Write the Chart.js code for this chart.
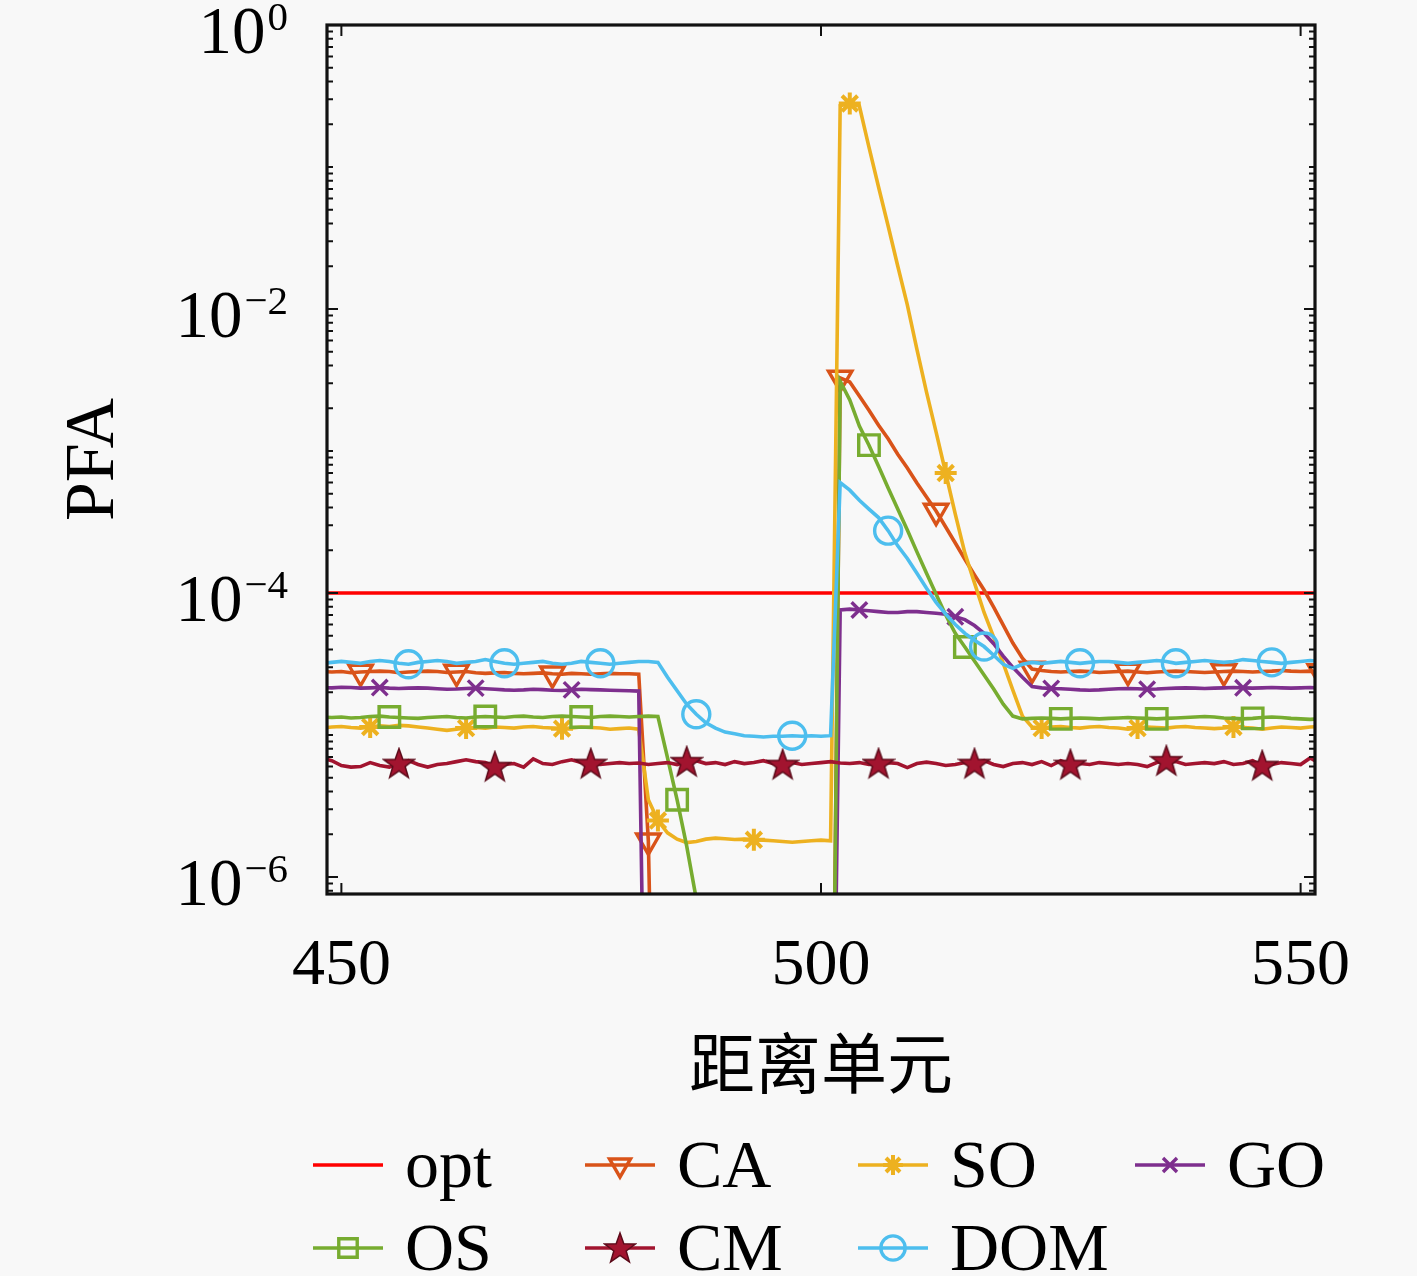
<!DOCTYPE html>
<html>
<head>
<meta charset="utf-8">
<script src="https://cdn.jsdelivr.net/npm/chart.js@4.4.1/dist/chart.umd.min.js"></script>
<style>
html, body { margin: 0; padding: 0; background: #f8f8f8; }
#wrap { width: 1417px; height: 1276px; position: relative; }
</style>
</head>
<body>
<div id="wrap"><canvas id="pfaChart"></canvas></div>
<script>
// range cells on the x axis
const cells = [448, 449,
  450, 451, 452, 453, 454, 455, 456, 457, 458, 459,
  460, 461, 462, 463, 464, 465, 466, 467, 468, 469,
  470, 471, 472, 473, 474, 475, 476, 477, 478, 479,
  480, 481, 482, 483, 484, 485, 486, 487, 488, 489,
  490, 491, 492, 493, 494, 495, 496, 497, 498, 499,
  500, 501, 502, 503, 504, 505, 506, 507, 508, 509,
  510, 511, 512, 513, 514, 515, 516, 517, 518, 519,
  520, 521, 522, 523, 524, 525, 526, 527, 528, 529,
  530, 531, 532, 533, 534, 535, 536, 537, 538, 539,
  540, 541, 542, 543, 544, 545, 546, 547, 548, 549,
  550, 551, 552];

const optCells = [448, 552];
const optPfa = [1e-4, 1e-4];

// 1e-9 = the value fell to zero (below the axis)
const caPfa = [2.8e-5, 2.78e-5,
  2.8e-5, 2.75e-5, 2.78e-5, 2.8e-5, 2.82e-5, 2.8e-5, 2.75e-5, 2.78e-5, 2.8e-5, 2.82e-5,
  2.8e-5, 2.76e-5, 2.78e-5, 2.8e-5, 2.75e-5, 2.72e-5, 2.74e-5, 2.76e-5, 2.72e-5, 2.7e-5,
  2.72e-5, 2.74e-5, 2.7e-5, 2.68e-5, 2.72e-5, 2.7e-5, 2.68e-5, 2.7e-5, 2.72e-5, 2.7e-5,
  2.7e-5, 2.68e-5, 1.8e-6, 1e-9, 1e-9, 1e-9, 1e-9, 1e-9, 1e-9, 1e-9,
  1e-9, 1e-9, 1e-9, 1e-9, 1e-9, 1e-9, 1e-9, 1e-9, 1e-9, 1e-9,
  1e-9, 1e-9, 3.27e-3, 3.06e-3, 2.44e-3, 1.94e-3, 1.52e-3, 1.22e-3, 9.5e-4, 7.6e-4,
  5.95e-4, 4.74e-4, 3.78e-4, 2.92e-4, 2.25e-4, 1.73e-4, 1.34e-4, 1.05e-4, 7.96e-5, 5.95e-5,
  4.45e-5, 3.48e-5, 2.92e-5, 2.85e-5, 2.8e-5, 2.78e-5, 2.8e-5, 2.82e-5, 2.8e-5, 2.76e-5,
  2.78e-5, 2.8e-5, 2.82e-5, 2.78e-5, 2.75e-5, 2.78e-5, 2.8e-5, 2.82e-5, 2.8e-5, 2.78e-5,
  2.76e-5, 2.78e-5, 2.8e-5, 2.82e-5, 2.8e-5, 2.78e-5, 2.8e-5, 2.82e-5, 2.85e-5, 2.82e-5,
  2.8e-5, 2.82e-5, 2.8e-5];

const soPfa = [1.12e-5, 1.14e-5,
  1.15e-5, 1.13e-5, 1.12e-5, 1.14e-5, 1.16e-5, 1.15e-5, 1.17e-5, 1.16e-5, 1.14e-5, 1.12e-5,
  1.1e-5, 1.08e-5, 1.1e-5, 1.12e-5, 1.13e-5, 1.12e-5, 1.14e-5, 1.13e-5, 1.12e-5, 1.14e-5,
  1.15e-5, 1.13e-5, 1.12e-5, 1.11e-5, 1.12e-5, 1.14e-5, 1.13e-5, 1.12e-5, 1.1e-5, 1.11e-5,
  1.12e-5, 1.1e-5, 3.5e-6, 2.5e-6, 2.05e-6, 1.85e-6, 1.75e-6, 1.78e-6, 1.85e-6, 1.88e-6,
  1.86e-6, 1.84e-6, 1.85e-6, 1.83e-6, 1.82e-6, 1.8e-6, 1.78e-6, 1.76e-6, 1.78e-6, 1.8e-6,
  1.82e-6, 1.8e-6, 0.27, 0.28, 0.269, 0.138, 0.0723, 0.0384, 0.0201, 0.0107,
  5.2e-3, 2.6e-3, 1.36e-3, 7.0e-4, 3.6e-4, 1.91e-4, 1.18e-4, 7.3e-5, 4.9e-5, 3.2e-5,
  2.07e-5, 1.36e-5, 1.14e-5, 1.12e-5, 1.14e-5, 1.15e-5, 1.13e-5, 1.12e-5, 1.14e-5, 1.15e-5,
  1.13e-5, 1.12e-5, 1.1e-5, 1.12e-5, 1.14e-5, 1.13e-5, 1.12e-5, 1.14e-5, 1.15e-5, 1.13e-5,
  1.12e-5, 1.11e-5, 1.12e-5, 1.14e-5, 1.13e-5, 1.12e-5, 1.1e-5, 1.12e-5, 1.14e-5, 1.13e-5,
  1.12e-5, 1.14e-5, 1.15e-5];

const goPfa = [2.16e-5, 2.15e-5,
  2.17e-5, 2.16e-5, 2.14e-5, 2.15e-5, 2.16e-5, 2.14e-5, 2.13e-5, 2.14e-5, 2.15e-5, 2.14e-5,
  2.12e-5, 2.1e-5, 2.11e-5, 2.13e-5, 2.14e-5, 2.12e-5, 2.1e-5, 2.08e-5, 2.07e-5, 2.08e-5,
  2.1e-5, 2.09e-5, 2.07e-5, 2.06e-5, 2.08e-5, 2.1e-5, 2.09e-5, 2.08e-5, 2.07e-5, 2.06e-5,
  2.05e-5, 2.04e-5, 1e-9, 1e-9, 1e-9, 1e-9, 1e-9, 1e-9, 1e-9, 1e-9,
  1e-9, 1e-9, 1e-9, 1e-9, 1e-9, 1e-9, 1e-9, 1e-9, 1e-9, 1e-9,
  1e-9, 1e-9, 7.6e-5, 7.7e-5, 7.6e-5, 7.5e-5, 7.4e-5, 7.3e-5, 7.3e-5, 7.4e-5,
  7.4e-5, 7.3e-5, 7.2e-5, 7.1e-5, 6.8e-5, 6.5e-5, 5.9e-5, 5.2e-5, 4.4e-5, 3.6e-5,
  3.0e-5, 2.55e-5, 2.2e-5, 2.15e-5, 2.13e-5, 2.12e-5, 2.1e-5, 2.08e-5, 2.07e-5, 2.08e-5,
  2.1e-5, 2.12e-5, 2.13e-5, 2.12e-5, 2.1e-5, 2.11e-5, 2.13e-5, 2.14e-5, 2.15e-5, 2.14e-5,
  2.13e-5, 2.14e-5, 2.15e-5, 2.16e-5, 2.15e-5, 2.14e-5, 2.15e-5, 2.16e-5, 2.15e-5, 2.14e-5,
  2.15e-5, 2.16e-5, 2.15e-5];

const osPfa = [1.34e-5, 1.33e-5,
  1.34e-5, 1.32e-5, 1.33e-5, 1.35e-5, 1.36e-5, 1.34e-5, 1.33e-5, 1.32e-5, 1.31e-5, 1.33e-5,
  1.34e-5, 1.35e-5, 1.33e-5, 1.32e-5, 1.34e-5, 1.35e-5, 1.34e-5, 1.33e-5, 1.35e-5, 1.36e-5,
  1.34e-5, 1.33e-5, 1.35e-5, 1.36e-5, 1.35e-5, 1.34e-5, 1.33e-5, 1.35e-5, 1.36e-5, 1.35e-5,
  1.34e-5, 1.35e-5, 1.36e-5, 1.35e-5, 6.9e-6, 3.5e-6, 1.65e-6, 7.0e-7, 1e-9, 1e-9,
  1e-9, 1e-9, 1e-9, 1e-9, 1e-9, 1e-9, 1e-9, 1e-9, 1e-9, 1e-9,
  1e-9, 1e-9, 3.1e-3, 2.29e-3, 1.5e-3, 1.1e-3, 7.8e-4, 5.5e-4, 3.9e-4, 2.78e-4,
  1.95e-4, 1.38e-4, 9.8e-5, 7.0e-5, 5.2e-5, 4.17e-5, 3.32e-5, 2.65e-5, 2.11e-5, 1.65e-5,
  1.36e-5, 1.3e-5, 1.31e-5, 1.32e-5, 1.31e-5, 1.3e-5, 1.31e-5, 1.32e-5, 1.31e-5, 1.3e-5,
  1.31e-5, 1.32e-5, 1.33e-5, 1.32e-5, 1.31e-5, 1.3e-5, 1.31e-5, 1.32e-5, 1.33e-5, 1.34e-5,
  1.35e-5, 1.34e-5, 1.32e-5, 1.31e-5, 1.3e-5, 1.31e-5, 1.33e-5, 1.34e-5, 1.33e-5, 1.31e-5,
  1.3e-5, 1.29e-5, 1.3e-5];

const cmPfa = [6.9e-6, 6.6e-6,
  6.1e-6, 5.95e-6, 6.0e-6, 6.4e-6, 6.1e-6, 5.95e-6, 6.3e-6, 6.6e-6, 6.2e-6, 5.95e-6,
  6.2e-6, 6.3e-6, 6.5e-6, 6.7e-6, 6.5e-6, 6.4e-6, 6.0e-6, 6.2e-6, 6.3e-6, 5.95e-6,
  6.8e-6, 6.3e-6, 6.2e-6, 6.5e-6, 6.7e-6, 6.4e-6, 6.3e-6, 6.2e-6, 6.3e-6, 6.4e-6,
  6.3e-6, 6.35e-6, 6.2e-6, 6.3e-6, 6.4e-6, 6.2e-6, 6.5e-6, 6.6e-6, 6.3e-6, 6.4e-6,
  6.2e-6, 6.5e-6, 6.3e-6, 6.4e-6, 6.6e-6, 6.3e-6, 6.2e-6, 6.4e-6, 6.2e-6, 6.3e-6,
  6.4e-6, 6.5e-6, 6.35e-6, 6.3e-6, 6.4e-6, 6.2e-6, 6.3e-6, 6.4e-6, 6.3e-6, 5.9e-6,
  6.3e-6, 6.45e-6, 6.3e-6, 6.1e-6, 6.2e-6, 6.4e-6, 6.3e-6, 6.6e-6, 6.2e-6, 6.0e-6,
  6.3e-6, 6.4e-6, 6.2e-6, 6.5e-6, 6.1e-6, 6.6e-6, 6.2e-6, 6.3e-6, 6.2e-6, 6.4e-6,
  6.3e-6, 6.2e-6, 6.3e-6, 6.2e-6, 6.0e-6, 6.4e-6, 6.6e-6, 6.5e-6, 6.2e-6, 6.3e-6,
  6.4e-6, 6.3e-6, 6.5e-6, 6.2e-6, 6.3e-6, 6.6e-6, 6.1e-6, 6.2e-6, 6.4e-6, 6.3e-6,
  6.2e-6, 6.9e-6, 6.3e-6];

const domPfa = [3.2e-5, 3.25e-5,
  3.3e-5, 3.25e-5, 3.2e-5, 3.3e-5, 3.35e-5, 3.3e-5, 3.2e-5, 3.15e-5, 3.25e-5, 3.3e-5,
  3.35e-5, 3.3e-5, 3.2e-5, 3.25e-5, 3.3e-5, 3.4e-5, 3.3e-5, 3.2e-5, 3.15e-5, 3.2e-5,
  3.25e-5, 3.3e-5, 3.2e-5, 3.15e-5, 3.2e-5, 3.3e-5, 3.25e-5, 3.2e-5, 3.15e-5, 3.2e-5,
  3.25e-5, 3.3e-5, 3.3e-5, 3.25e-5, 2.55e-5, 2.05e-5, 1.65e-5, 1.4e-5, 1.22e-5, 1.12e-5,
  1.05e-5, 1.02e-5, 9.9e-6, 9.8e-6, 9.7e-6, 9.8e-6, 9.8e-6, 9.9e-6, 9.8e-6, 9.9e-6,
  9.8e-6, 9.9e-6, 6.0e-4, 5.3e-4, 4.5e-4, 3.9e-4, 3.4e-4, 2.75e-4, 2.15e-4, 1.75e-4,
  1.38e-4, 1.08e-4, 8.6e-5, 7.1e-5, 6.0e-5, 5.2e-5, 4.65e-5, 4.2e-5, 3.65e-5, 3.15e-5,
  2.95e-5, 3.15e-5, 3.25e-5, 3.2e-5, 3.25e-5, 3.3e-5, 3.25e-5, 3.2e-5, 3.25e-5, 3.3e-5,
  3.3e-5, 3.25e-5, 3.2e-5, 3.25e-5, 3.3e-5, 3.35e-5, 3.3e-5, 3.2e-5, 3.25e-5, 3.3e-5,
  3.35e-5, 3.3e-5, 3.25e-5, 3.3e-5, 3.4e-5, 3.35e-5, 3.3e-5, 3.25e-5, 3.2e-5, 3.25e-5,
  3.3e-5, 3.35e-5, 3.3e-5];

const xLabels = [450, 500, 550];
const yLabels = [1e-6, 1e-4, 1e-2, 1];

const Y_MIN = 7.6e-7;
const FONT = '"Liberation Serif", "DejaVu Serif", serif';

// filled five-point star marker (CM)
const pentagram = (() => {
  const c = document.createElement('canvas');
  c.width = 34; c.height = 34;
  const g = c.getContext('2d');
  g.beginPath();
  for (let k = 0; k < 10; k++) {
    const r = k % 2 ? 6.5 : 16;
    const a = -Math.PI / 2 + k * Math.PI / 5;
    const px = 17 + r * Math.cos(a), py = 18 + r * Math.sin(a);
    if (k) g.lineTo(px, py); else g.moveTo(px, py);
  }
  g.closePath();
  g.fillStyle = '#A2142F';
  g.fill();
  g.strokeStyle = '#5c0b1a';
  g.lineWidth = 1.5;
  g.stroke();
  return c;
})();

function toPoints(xs, ys) {
  return xs.map((x, i) => ({x: x, y: ys[i]}));
}

// a marker every 10 cells, like the matlab MarkerIndices
function markerEvery(offset, r) {
  return ctx => {
    const p = ctx.raw;
    if (!p || p.y < Y_MIN) return 0;
    return ((p.x - offset) % 10 === 0) ? r : 0;
  };
}

function line(label, pts, color, style, off, r, extra) {
  return Object.assign({
    label: label,
    data: pts,
    borderColor: color,
    backgroundColor: 'rgba(0,0,0,0)',
    borderWidth: 3.6,
    pointStyle: style,
    pointRadius: style ? markerEvery(off, r) : 0,
    pointBorderColor: color,
    pointBackgroundColor: 'rgba(0,0,0,0)',
    pointBorderWidth: 3.4,
    legendRadius: r,
    tension: 0
  }, extra || {});
}

const datasets = [
  line('opt', toPoints(optCells, optPfa), '#FF0000', false, 0, 0, {order: 7}),
  line('CA', toPoints(cells, caPfa), '#D95319', 'triangle', 2, 13.5, {pointRotation: 180, order: 6}),
  line('SO', toPoints(cells, soPfa), '#EDB120', 'star', 3, 11, {pointBorderWidth: 4, order: 5}),
  line('GO', toPoints(cells, goPfa), '#7E2F8E', 'crossRot', 4, 11, {order: 4}),
  line('OS', toPoints(cells, osPfa), '#77AC30', 'rect', 5, 14.5, {order: 3}),
  line('CM', toPoints(cells, cmPfa), '#A2142F', pentagram, 6, 15, {order: 2}),
  line('DOM', toPoints(cells, domPfa), '#4DBEEE', 'circle', 7, 13.5, {order: 1})
];

// y labels as 10 with a raised exponent
const powerLabels = {
  id: 'powerLabels',
  afterDraw(chart) {
    const {ctx, scales: {y}} = chart;
    ctx.save();
    ctx.fillStyle = '#000';
    ctx.textAlign = 'right';
    ctx.textBaseline = 'alphabetic';
    yLabels.forEach(v => {
      const py = y.getPixelForValue(v);
      const e = Math.round(Math.log10(v));
      const expText = e < 0 ? '\u2212' + String(-e) : String(e);
      ctx.font = '41px ' + FONT;
      ctx.fillText(expText, 288, py + 5);
      const w = ctx.measureText(expText).width;
      ctx.font = '67px ' + FONT;
      ctx.fillText('10', 288 - w - 2, py + 28);
    });
    ctx.restore();
  }
};

// box with inward ticks on all four sides
const frameTicks = {
  id: 'frameTicks',
  afterDatasetsDraw(chart) {
    const {ctx, chartArea: a, scales: {x, y}} = chart;
    ctx.save();
    ctx.strokeStyle = '#111';
    ctx.lineWidth = 2;
    ctx.beginPath();
    xLabels.forEach(v => {
      const px = x.getPixelForValue(v);
      ctx.moveTo(px, a.bottom); ctx.lineTo(px, a.bottom - 11);
      ctx.moveTo(px, a.top); ctx.lineTo(px, a.top + 11);
    });
    for (let e = -7; e <= 0; e++) {
      for (let m = 1; m < 10; m++) {
        const v = m * Math.pow(10, e);
        if (v < y.min || v > y.max) continue;
        const py = y.getPixelForValue(v);
        const len = (m === 1 && e % 2 === 0) ? 11 : 6;
        ctx.moveTo(a.left, py); ctx.lineTo(a.left + len, py);
        ctx.moveTo(a.right, py); ctx.lineTo(a.right - len, py);
      }
    }
    ctx.stroke();
    ctx.lineWidth = 3.2;
    ctx.strokeRect(a.left, a.top, a.right - a.left, a.bottom - a.top);
    ctx.restore();
  }
};

// two-row legend under the axis title
const legendSlots = [[313, 1165], [585, 1165], [858, 1165], [1135, 1165],
  [313, 1248], [585, 1248], [858, 1248]];
const legendBelow = {
  id: 'legendBelow',
  afterDraw(chart) {
    const ctx = chart.ctx;
    ctx.save();
    chart.data.datasets.forEach((ds, i) => {
      const [sx, sy] = legendSlots[i];
      ctx.strokeStyle = ds.borderColor;
      ctx.lineWidth = ds.borderWidth;
      ctx.beginPath();
      ctx.moveTo(sx, sy);
      ctx.lineTo(sx + 70, sy);
      ctx.stroke();
      if (ds.pointStyle) {
        ctx.strokeStyle = ds.pointBorderColor;
        ctx.fillStyle = ds.pointBackgroundColor;
        ctx.lineWidth = ds.pointBorderWidth;
        Chart.helpers.drawPoint(ctx, {
          pointStyle: ds.pointStyle,
          rotation: ds.pointRotation || 0,
          radius: ds.legendRadius * 0.9,
          borderWidth: ds.pointBorderWidth
        }, sx + 35, sy);
      }
      ctx.fillStyle = '#000';
      ctx.font = '68px ' + FONT;
      ctx.textBaseline = 'alphabetic';
      ctx.textAlign = 'left';
      ctx.fillText(ds.label, sx + 92, sy + 22);
    });
    ctx.restore();
  }
};

new Chart(document.getElementById('pfaChart'), {
  type: 'line',
  data: {datasets: datasets},
  options: {
    responsive: true,
    maintainAspectRatio: false,
    animation: false,
    events: [],
    layout: {padding: {left: 0, top: 25, right: 102, bottom: 173}},
    plugins: {legend: {display: false}, tooltip: {enabled: false}},
    scales: {
      x: {
        type: 'linear',
        min: 448.5,
        max: 551.5,
        afterBuildTicks: s => { s.ticks = xLabels.map(v => ({value: v})); },
        afterFit: s => { s.height = 209; s.paddingLeft = 0; s.paddingRight = 0; },
        grid: {display: false, drawTicks: false},
        border: {display: false},
        ticks: {autoSkip: false, maxRotation: 0, padding: 33, color: '#000',
          font: {family: FONT, size: 66}},
        title: {display: true, text: '距离单元', color: '#000',
          font: {family: '"Noto Sans CJK SC", sans-serif', size: 66},
          padding: {top: 0, bottom: 0}}
      },
      y: {
        type: 'logarithmic',
        min: Y_MIN,
        max: 1,
        afterBuildTicks: s => { s.ticks = yLabels.map(v => ({value: v})); },
        afterFit: s => { s.width = 327; s.paddingTop = 0; s.paddingBottom = 0; },
        grid: {display: false, drawTicks: false},
        border: {display: false},
        ticks: {display: false},
        title: {display: true, text: 'PFA', color: '#000',
          font: {family: FONT, size: 70}, padding: {top: 53, bottom: 0}}
      }
    }
  },
  plugins: [frameTicks, powerLabels, legendBelow]
});
</script>
</body>
</html>
